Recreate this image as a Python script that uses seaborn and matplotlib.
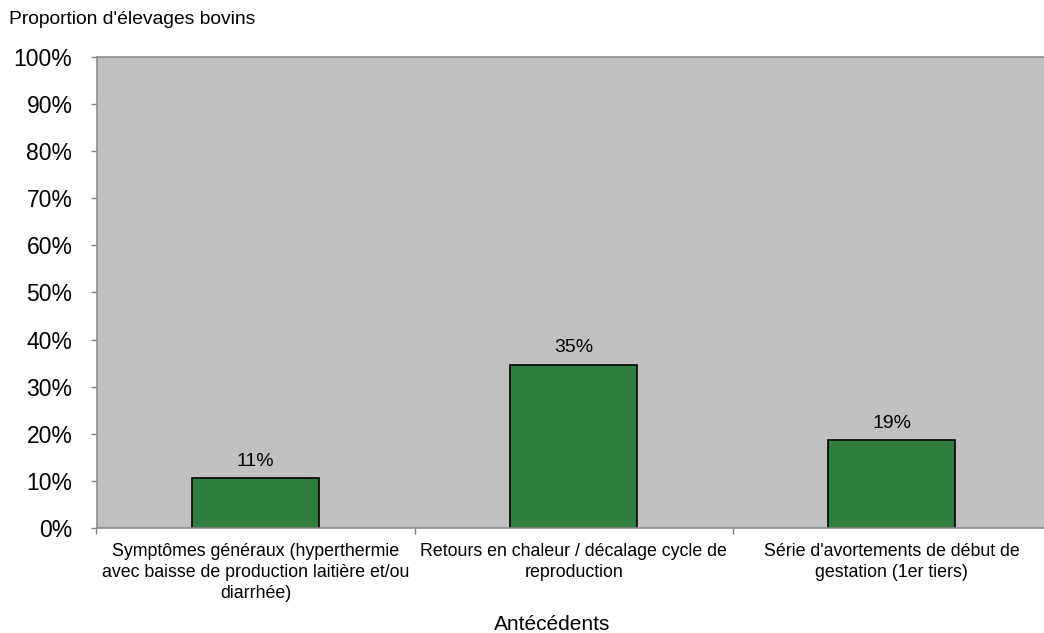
import matplotlib
matplotlib.use("Agg")
import matplotlib.pyplot as plt
import seaborn as sns
import numpy as np
import pandas as pd
from matplotlib.ticker import FixedLocator, PercentFormatter

categories = [
    "Symptômes généraux (hyperthermie\navec baisse de production laitière et/ou\ndiarrhée)",
    "Retours en chaleur / décalage cycle de\nreproduction",
    "Série d'avortements de début de\ngestation (1er tiers)",
]
values = [10.7, 34.7, 18.7]
value_labels = ["11%", "35%", "19%"]

sns.set_theme(style="white")
plt.rcParams['font.family'] = ['Liberation Sans', 'DejaVu Sans']

fig = plt.figure(figsize=(10.44, 6.33), dpi=100)
ax = fig.add_axes([96.5/1044, 1-528.3/633, (1050.8-96.5)/1044, (528.3-56.7)/633])
ax.set_facecolor("#C0C0C0")

df = pd.DataFrame({"cat": categories, "val": values})
sns.barplot(data=df, x="cat", y="val", color="#2E7F3F", saturation=1,
            edgecolor="black", linewidth=1.2, width=0.40, ax=ax)

for i, (v, lab) in enumerate(zip(values, value_labels)):
    ax.annotate(lab, (i, v), xytext=(0, 6), textcoords="offset points",
                ha="center", va="bottom", fontsize=14, color="black")

ax.set_ylim(0, 100)
ax.set_xlim(-0.5, 2.5)
ax.set_yticks(np.arange(0, 101, 10))
ax.yaxis.set_major_formatter(PercentFormatter(decimals=0))
ax.tick_params(axis="y", which="major", left=True, length=4.3, width=1,
               color="#808080", pad=13, labelsize=16.5, labelcolor="black")
ax.tick_params(axis="x", which="major", bottom=False, length=0, pad=10.5,
               labelsize=12.8, labelcolor="black")
ax.xaxis.set_minor_locator(FixedLocator([-0.5, 0.5, 1.5, 2.5]))
ax.tick_params(axis="x", which="minor", bottom=True, length=4, width=1,
               color="#808080")
for t in ax.get_xticklabels():
    t.set_linespacing(1.32)
    t.set_ha("center")

ax.set_xlabel("")
ax.set_ylabel("")
for s in ["left", "bottom", "top"]:
    ax.spines[s].set_visible(True)
    ax.spines[s].set_color("#8C8C8C")
    ax.spines[s].set_linewidth(1.2)
ax.spines["right"].set_visible(False)

fig.text(9/1044, 1-20/633, "Proportion d'élevages bovins", fontsize=13.9,
         ha="left", va="center", color="black")
fig.text(552/1044, 1-624/633, "Antécédents", fontsize=15,
         ha="center", va="center", color="black")

fig.savefig("out.png", dpi=100)
